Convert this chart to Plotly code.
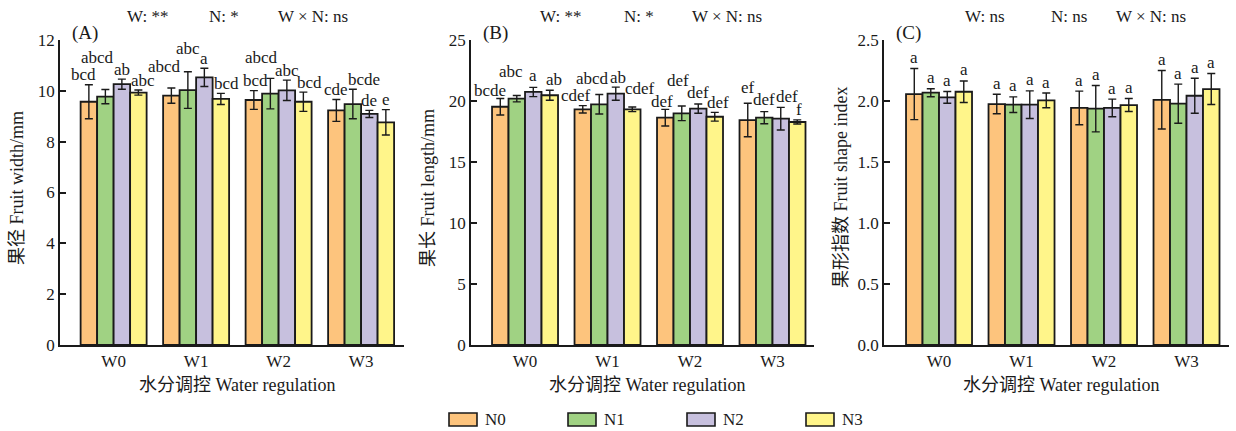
import plotly.graph_objects as go

W, H = 1236, 431

water = ["W0", "W1", "W2", "W3"]
nitrogen = ["N0", "N1", "N2", "N3"]
colors = ["#FDC47D", "#A0D283", "#C7C0DE", "#FFF58A"]

# Fruit width (mm): rows = N level, columns = W level
width_mean = [
    [9.57, 9.81, 9.64, 9.23],
    [9.77, 10.03, 9.89, 9.48],
    [10.26, 10.53, 10.02, 9.09],
    [9.93, 9.68, 9.57, 8.76],
]
width_sd = [
    [0.67, 0.30, 0.37, 0.43],
    [0.28, 0.72, 0.60, 0.58],
    [0.20, 0.36, 0.40, 0.14],
    [0.10, 0.22, 0.38, 0.50],
]
width_letters = [
    ["bcd", "abcd", "bcd", "cde"],
    ["abcd", "abc", "abcd", "bcde"],
    ["ab", "a", "abc", "de"],
    ["abc", "bcd", "bcd", "e"],
]

# Fruit length (mm)
length_mean = [
    [19.53, 19.32, 18.63, 18.44],
    [20.19, 19.73, 18.99, 18.63],
    [20.74, 20.60, 19.37, 18.55],
    [20.47, 19.32, 18.71, 18.28],
]
length_sd = [
    [0.68, 0.30, 0.68, 1.37],
    [0.26, 0.80, 0.60, 0.50],
    [0.38, 0.54, 0.38, 0.93],
    [0.41, 0.19, 0.36, 0.17],
]
length_letters = [
    ["bcde", "cdef", "def", "ef"],
    ["abc", "abcd", "def", "def"],
    ["a", "ab", "def", "def"],
    ["ab", "cdef", "def", "f"],
]

# Fruit shape index
shape_mean = [
    [2.057, 1.975, 1.943, 2.010],
    [2.068, 1.970, 1.937, 1.978],
    [2.030, 1.970, 1.943, 2.043],
    [2.076, 2.005, 1.967, 2.098],
]
shape_sd = [
    [0.210, 0.080, 0.138, 0.240],
    [0.033, 0.064, 0.190, 0.160],
    [0.048, 0.113, 0.072, 0.143],
    [0.088, 0.060, 0.053, 0.127],
]
shape_letters = [["a"] * 4 for _ in range(4)]

significance = [
    ["W: **", "N: *", "W × N: ns"],
    ["W: **", "N: *", "W × N: ns"],
    ["W: ns", "N: ns", "W × N: ns"],
]
panel_tags = ["(A)", "(B)", "(C)"]
y_titles = ["果径 Fruit width/mm", "果长 Fruit length/mm", "果形指数 Fruit shape index"]
x_title = "水分调控 Water regulation"

FONT = "'Liberation Serif', 'Times New Roman', 'Noto Sans CJK SC', serif"
INK = "#1a1a1a"


def px(x):
    return x / W


def py(y):
    return 1 - y / H


# plot-area geometry in pixels: (left, right) of each panel, shared top/bottom
panels = [
    dict(x0=60, x1=404, xr=[-0.65, 3.52], yr=[0, 12], dt=2, fmt=""),
    dict(x0=471, x1=814, xr=[-0.655, 3.503], yr=[0, 25], dt=5, fmt=""),
    dict(x0=884, x1=1229, xr=[-0.667, 3.515], yr=[0, 2.5], dt=0.5, fmt=".1f"),
]
TOP, BOT = 40, 345

datasets = [
    (width_mean, width_sd, width_letters),
    (length_mean, length_sd, length_letters),
    (shape_mean, shape_sd, shape_letters),
]

# manual nudges (dx, dy in px) to keep crowded letters apart
nudges = [
    {(0, 0): (-5, 0), (1, 0): (-8, 22), (3, 0): (5, 0), (0, 1): (-7, 12),
     (1, 1): (0, 13), (3, 1): (6, 0), (0, 2): (2, 0), (1, 2): (-9, 11),
     (3, 2): (6, 0), (1, 3): (11, 0)},
    {(0, 0): (-10, -2), (1, 0): (-6, 14), (2, 0): (0, 2), (3, 0): (4, 1),
     (0, 1): (-7, 0), (1, 1): (-7, 6), (2, 1): (2, 0), (3, 1): (8, 8),
     (0, 2): (-3, -2), (1, 2): (-4, 16), (2, 2): (0, 2), (3, 2): (3, 0),
     (0, 3): (0, 6), (1, 3): (0, 2), (2, 3): (6, 1), (3, 3): (2, 0)},
    {},
]
base_lift = [10, 10, 11]

fig = go.Figure()
annotations = []
shapes = []
layout_axes = {}

for p, (pan, (means, sds, letters)) in enumerate(zip(panels, datasets)):
    xa = "x" if p == 0 else f"x{p + 1}"
    ya = "y" if p == 0 else f"y{p + 1}"
    for j, n in enumerate(nitrogen):
        fig.add_trace(go.Bar(
            x=[0, 1, 2, 3], y=means[j], name=n,
            marker=dict(color=colors[j], line=dict(color=INK, width=1.8)),
            error_y=dict(type="data", array=sds[j], color=INK, thickness=1.4, width=4),
            xaxis=xa, yaxis=ya, showlegend=False, offsetgroup=str(j),
        ))
        for i in range(4):
            dx, dy = nudges[p].get((j, i), (0, 0))
            annotations.append(dict(
                x=i + (j - 1.5) * 0.2, y=means[j][i] + sds[j][i],
                xref=xa, yref=ya, text=letters[j][i], showarrow=False,
                xanchor="center", yanchor="middle",
                xshift=dx, yshift=base_lift[p] + dy,
                font=dict(family=FONT, size=17, color=INK),
            ))

    n_ticks = int(round(pan["yr"][1] / pan["dt"])) + 1
    tickvals = [k * pan["dt"] for k in range(n_ticks)]
    key = "" if p == 0 else str(p + 1)
    layout_axes["xaxis" + key] = dict(
        domain=[px(pan["x0"]), px(pan["x1"])], range=pan["xr"], anchor=ya,
        tickvals=[0, 1, 2, 3], ticktext=water, ticks="", showgrid=False,
        zeroline=False, showline=True, linecolor=INK, linewidth=1.8,
        automargin=False, tickfont=dict(family=FONT, size=17, color=INK),
    )
    layout_axes["yaxis" + key] = dict(
        domain=[py(BOT), py(TOP)], range=pan["yr"], anchor=xa,
        tickvals=tickvals, tickformat=pan["fmt"], ticks="inside", ticklen=6,
        tickwidth=1.6, tickcolor=INK, showgrid=False, zeroline=False,
        showline=True, linecolor=INK, linewidth=1.8, automargin=False,
        tickfont=dict(family=FONT, size=17, color=INK),
    )

    # header with ANOVA significance
    for txt, cx in zip(significance[p], [[147, 224, 313], [560, 639, 727], [985, 1069, 1151]][p]):
        annotations.append(dict(
            x=px(cx), y=py(16), xref="paper", yref="paper", text=txt,
            showarrow=False, xanchor="center", yanchor="middle",
            font=dict(family=FONT, size=17, color=INK),
        ))
    # panel tag
    annotations.append(dict(
        x=px(pan["x0"] + 10), y=py(33), xref="paper", yref="paper",
        text=panel_tags[p], showarrow=False, xanchor="left", yanchor="middle",
        font=dict(family=FONT, size=19, color=INK),
    ))
    # axis titles
    annotations.append(dict(
        x=px((pan["x0"] + pan["x1"]) / 2 + 5), y=py(385), xref="paper", yref="paper",
        text=x_title, showarrow=False, xanchor="center", yanchor="middle",
        font=dict(family=FONT, size=18, color=INK),
    ))
    annotations.append(dict(
        x=px(pan["x0"] - 43), y=py(188), xref="paper", yref="paper",
        text=y_titles[p], showarrow=False, xanchor="center", yanchor="middle",
        textangle=-90, font=dict(family=FONT, size=18, color=INK),
    ))

# legend row along the bottom
for j, n in enumerate(nitrogen):
    bx = 449 + j * 119
    shapes.append(dict(
        type="rect", xref="paper", yref="paper",
        x0=px(bx), x1=px(bx + 28), y0=py(426), y1=py(413),
        fillcolor=colors[j], line=dict(color=INK, width=1.6),
    ))
    annotations.append(dict(
        x=px(bx + 34), y=py(419), xref="paper", yref="paper", text=n,
        showarrow=False, xanchor="left", yanchor="middle",
        font=dict(family=FONT, size=17, color=INK),
    ))

fig.update_layout(
    width=W, height=H,
    margin=dict(l=0, r=0, t=0, b=0, pad=0, autoexpand=False),
    paper_bgcolor="white", plot_bgcolor="white",
    barmode="group", bargap=0.2, bargroupgap=0,
    showlegend=False, annotations=annotations, shapes=shapes,
    **layout_axes,
)

fig.write_html("out.html")
